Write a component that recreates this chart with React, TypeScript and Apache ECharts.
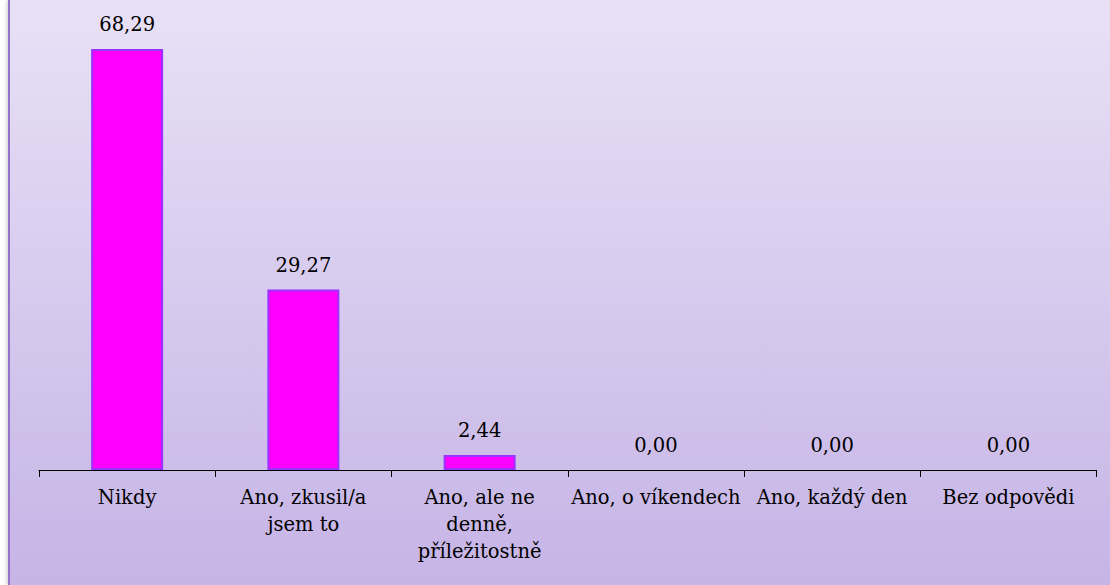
import React, { useEffect, useRef } from "react";
import * as echarts from "echarts";

const categories = [
  "Nikdy",
  "Ano, zkusil/a\njsem to",
  "Ano, ale ne\ndenně,\npříležitostně",
  "Ano, o víkendech",
  "Ano, každý den",
  "Bez odpovědi",
];
const values = [68.29, 29.27, 2.44, 0.0, 0.0, 0.0];

const FONT = "DejaVu Serif";

export default function App() {
  const ref = useRef<HTMLDivElement>(null);
  useEffect(() => {
    if (!ref.current) return;
    const chart = echarts.init(ref.current, null, { renderer: "svg" });
    chart.setOption({
      animation: false,
      textStyle: { fontFamily: FONT },
      backgroundColor: {
        type: "linear",
        x: 0,
        y: 0,
        x2: 0,
        y2: 1,
        colorStops: [
          { offset: 0, color: "#E8E1F6" },
          { offset: 1, color: "#C6B4E6" },
        ],
      },
      grid: { left: 29, right: 13.5, top: 38.5, bottom: 115, containLabel: false },
      xAxis: {
        type: "category",
        data: categories,
        axisLine: { lineStyle: { color: "#000", width: 1 } },
        axisTick: { show: true, length: 7, lineStyle: { color: "#000" } },
        axisLabel: {
          interval: 0,
          color: "#000",
          fontFamily: FONT,
          fontSize: 19.5,
          lineHeight: 27,
          margin: 14,
        },
      },
      yAxis: {
        type: "value",
        min: 0,
        max: 70,
        show: false,
        splitLine: { show: false },
      },
      series: [
        {
          type: "bar",
          data: values.map((v) => ({
            value: v,
            itemStyle: v === 0 ? { borderWidth: 0, opacity: 0 } : {},
            label: v === 0 ? { opacity: 1 } : {},
          })),
          barWidth: 72,
          itemStyle: { color: "#FF00FF", borderColor: "#9933FF", borderWidth: 2 },
          label: {
            show: true,
            position: "top",
            distance: 11,
            color: "#000",
            fontFamily: FONT,
            fontSize: 19.5,
            lineHeight: 27,
            formatter: (p: any) => Number(p.value).toFixed(2).replace(".", ","),
          },
        },
      ],
    });
    return () => chart.dispose();
  }, []);
  return (
    <div
      style={{
        position: "absolute",
        left: 8,
        top: 0,
        width: 1102,
        height: 585,
        borderLeft: "2px solid #9472C9",
        boxShadow: "-2px 0 3px rgba(0,0,0,0.15)",
      }}
    >
      <div ref={ref} style={{ width: 1100, height: 585 }} />
    </div>
  );
}
